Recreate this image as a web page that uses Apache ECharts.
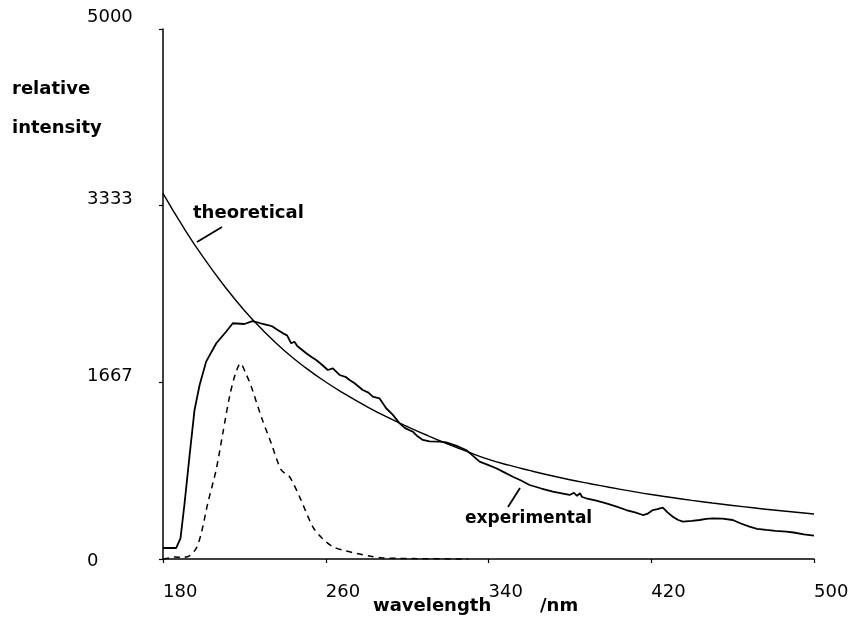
<!DOCTYPE html>
<html>
<head>
<meta charset="utf-8">
<script src="https://cdn.jsdelivr.net/npm/echarts@6/dist/echarts.min.js"></script>
<style>
  html, body { margin: 0; padding: 0; background: #fff; }
  #chart { width: 851px; height: 625px; }
</style>
</head>
<body>
<div id="chart"></div>
<script>
// tick labels
const xTicks = [180, 260, 340, 420, 500];
const yTicks = [0, 1667, 3333, 5000];

// theoretical curve (smooth)
const theoWl = [180, 190, 200, 210, 220, 230, 240, 250, 260, 270, 280, 290, 300, 310, 320, 330, 340,
  350, 360, 370, 380, 390, 400, 410, 420, 430, 440, 450, 460, 470, 480, 490, 500];
const theoVal = [3450, 3130, 2840, 2580, 2345, 2140, 1960, 1805, 1670, 1550, 1440, 1340, 1250, 1165, 1085, 1010, 940,
  885, 836, 790, 748, 710, 674, 640, 608, 580, 553, 528, 505, 483, 462, 443, 424];

// experimental curve (measured, noisy)
const expWl = [180, 186.5, 188.6, 190.6, 193, 195.5, 198, 201.2, 206.2, 211, 214.3, 220, 224, 228, 232, 234,
  236, 239, 241, 243, 244.6, 246, 250.4, 253, 255.3, 258, 261, 263.5, 266.8, 270, 271.7, 274, 278.2, 281,
  283.1, 286.4, 289.7, 293, 296.3, 299, 302.8, 305, 307.7, 311, 316, 319.2, 324, 329, 332, 335.6, 340,
  343.8, 348, 352, 356, 360.2, 366, 371.6, 376, 379.9, 382, 383.5, 385, 386, 388, 393, 397.9, 403, 407.7,
  412, 415.9, 418, 420.8, 423, 425.7, 428, 430.6, 433, 435.5, 440, 443.8, 447, 450.3, 455, 460.1, 464,
  468.3, 472, 476.6, 481, 486.4, 490, 495, 500];
const expVal = [104, 104, 195, 525, 965, 1406, 1642, 1862, 2035, 2144, 2224, 2217, 2245, 2224, 2205, 2192,
  2165, 2129, 2110, 2035, 2050, 2010, 1941, 1905, 1877, 1835, 1783, 1799, 1736, 1715, 1689, 1660, 1594, 1570,
  1531, 1516, 1422, 1360, 1280, 1235, 1201, 1160, 1123, 1110, 1107, 1100, 1070, 1028, 980, 918, 885,
  856, 815, 776, 740, 698, 665, 635, 620, 604, 625, 595, 620, 585, 573, 550, 525, 495, 462,
  440, 415, 425, 462, 470, 484, 440, 399, 370, 352, 360, 368, 378, 384, 380, 368, 335,
  305, 285, 274, 265, 258, 250, 232, 220];

// dashed curve
const dashWl = [180, 183, 185.7, 189.8, 193, 196.3, 198.8, 202, 206.1, 209.4, 212.7, 215.5, 218.1, 220.5,
  223.4, 228.3, 233.2, 238.1, 242.2, 247.1, 253.6, 258, 263.5, 270, 275, 282, 288, 295, 305, 330];
const dashVal = [0, 10, 20, 15, 30, 100, 242, 525, 840, 1186, 1531, 1740, 1846, 1760,
  1626, 1342, 1091, 840, 776, 588, 305, 200, 116, 75, 54, 25, 10, 6, 3, 0];

function zip(xs, ys) {
  return xs.map((x, i) => [x, ys[i]]);
}

const chart = echarts.init(document.getElementById('chart'));
const font = 'DejaVu Sans';

const option = {
  backgroundColor: '#fff',
  animation: false,
  grid: { left: 163, right: 37, top: 29, bottom: 66, outerBoundsMode: 'none' },
  xAxis: {
    type: 'value',
    min: 180,
    max: 500,
    splitLine: { show: false },
    axisLine: { lineStyle: { color: '#000', width: 1.5 } },
    axisTick: { customValues: xTicks, length: 4, lineStyle: { color: '#000', width: 1.2 } },
    axisLabel: {
      customValues: xTicks,
      align: 'left',
      margin: 24,
      color: '#000',
      fontFamily: font,
      fontSize: 18
    }
  },
  yAxis: {
    type: 'value',
    min: 0,
    max: 5000,
    splitLine: { show: false },
    axisLine: { onZero: false, lineStyle: { color: '#000', width: 1.5 } },
    axisTick: { customValues: yTicks, length: 4, lineStyle: { color: '#000', width: 1.2 } },
    axisLabel: {
      customValues: yTicks,
      align: 'left',
      margin: 76,
      color: '#000',
      fontFamily: font,
      fontSize: 18,
      formatter: function (v) {
        if (v === 5000) return '{top|' + v + '}';
        if (v === 0) return '{low|' + v + '}';
        return '{n|' + v + '}';
      },
      rich: {
        top: { fontFamily: font, fontSize: 18, color: '#000', padding: [0, 0, 24, 0] },
        n: { fontFamily: font, fontSize: 18, color: '#000', padding: [0, 0, 12, 0] },
        low: { fontFamily: font, fontSize: 18, color: '#000', padding: [4, 0, 0, 0] }
      }
    }
  },
  series: [
    {
      name: 'theoretical',
      type: 'line',
      data: zip(theoWl, theoVal),
      smooth: true,
      showSymbol: false,
      lineStyle: { color: '#000', width: 1.4 }
    },
    {
      name: 'experimental',
      type: 'line',
      data: zip(expWl, expVal),
      showSymbol: false,
      lineStyle: { color: '#000', width: 1.8 }
    },
    {
      name: 'dashed',
      type: 'line',
      data: zip(dashWl, dashVal),
      smooth: 0.3,
      showSymbol: false,
      lineStyle: { color: '#000', width: 1.5, type: [6, 5] }
    }
  ],
  graphic: [
    { type: 'text', left: 12, top: 80, style: { text: 'relative', font: 'bold 18px "DejaVu Sans"', fill: '#000' } },
    { type: 'text', left: 12, top: 119, style: { text: 'intensity', font: 'bold 18px "DejaVu Sans"', fill: '#000' } },
    { type: 'text', left: 193, top: 204, style: { text: 'theoretical', font: 'bold 18px "DejaVu Sans"', fill: '#000' } },
    { type: 'line', shape: { x1: 197, y1: 242, x2: 222, y2: 227 }, style: { stroke: '#000', lineWidth: 1.8 } },
    { type: 'text', left: 465, top: 510, style: { text: 'experimental', font: 'bold 17px "DejaVu Sans"', fill: '#000' } },
    { type: 'line', shape: { x1: 508, y1: 507, x2: 520, y2: 488 }, style: { stroke: '#000', lineWidth: 1.8 } },
    { type: 'text', left: 373, top: 597, style: { text: 'wavelength', font: 'bold 18px "DejaVu Sans"', fill: '#000' } },
    { type: 'text', left: 540, top: 597, style: { text: '/nm', font: 'bold 18px "DejaVu Sans"', fill: '#000' } }
  ]
};

chart.setOption(option);
</script>
</body>
</html>
